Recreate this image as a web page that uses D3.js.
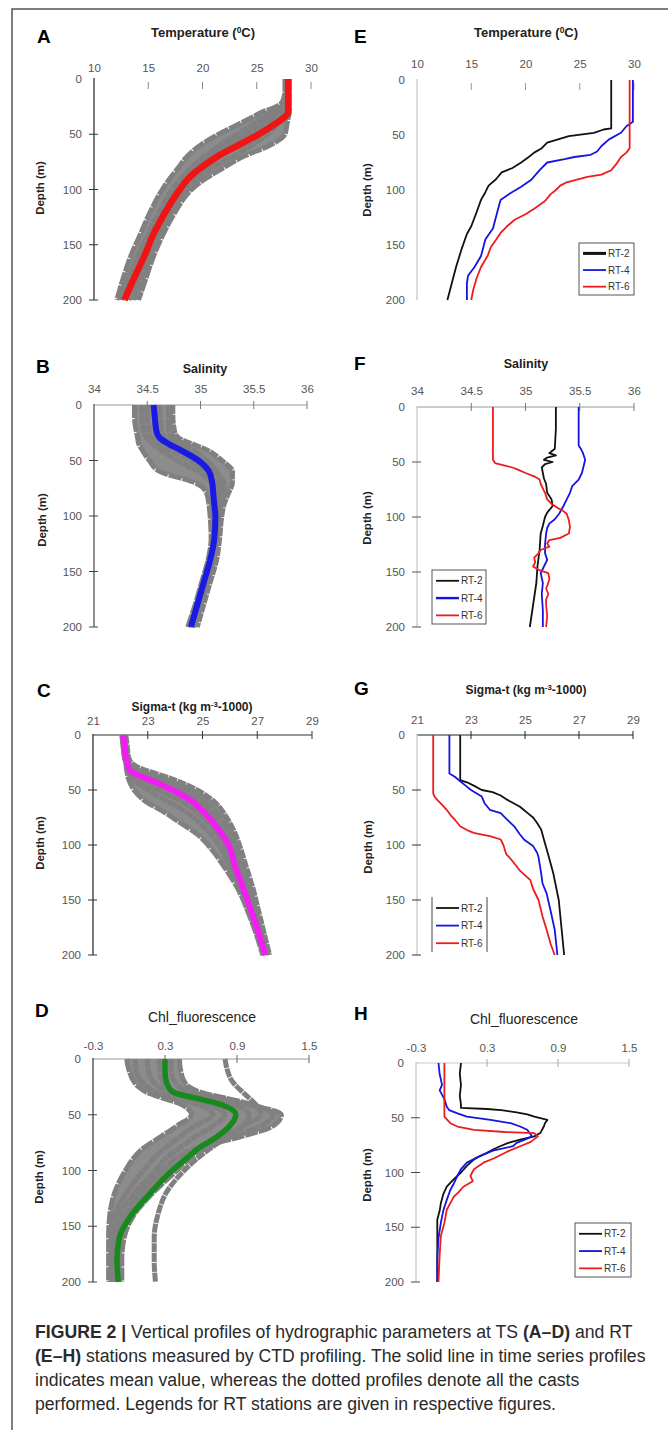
<!DOCTYPE html>
<html><head><meta charset="utf-8">
<script src="https://cdn.jsdelivr.net/npm/d3@7"></script>
<style>
body{margin:0;background:#fff}
svg{display:block}
text{font-family:Arial,"Liberation Sans",Helvetica,sans-serif}
</style>
</head><body>
<svg id="fig" width="668" height="1430"></svg>
<script>
// ---------------- DATA ----------------
const depthTicks = [0, 50, 100, 150, 200];
const tempTicks = [10, 15, 20, 25, 30];
const salTicks = [34, 34.5, 35, 35.5, 36];
const sigTicks = [21, 23, 25, 27, 29];
const chlTicks = [-0.3, 0.3, 0.9, 1.5];
const stations = ["RT-2", "RT-4", "RT-6"];

// time-series (TS) common depth grid (m)
const tsDepth = [0,10,20,25,30,35,40,50,60,70,80,90,100,120,140,160,180,200];

// A: temperature, mean and individual casts
const tempMean  = [27.9,27.9,27.9,27.9,27.9,27.5,26.8,25.2,23.3,21.4,19.9,18.7,17.9,16.6,15.5,14.65,13.7,12.8];
const tempCast1 = [28.0,28.0,28.0,28.0,28.0,27.9,27.8,27.6,26.2,23.8,22.0,20.3,19.0,17.5,16.4,15.5,14.8,14.1];
const tempCast2 = [27.9,27.9,27.9,27.9,27.8,27.5,27.0,26.0,24.5,22.8,21.0,19.6,18.6,17.1,16.0,15.1,14.3,13.6];
const tempCast3 = [27.8,27.8,27.8,27.7,27.3,26.6,26.0,24.6,22.8,21.5,20.3,19.2,18.3,16.9,15.8,14.9,14.0,13.2];
const tempCast4 = [27.7,27.7,27.6,27.3,26.5,25.6,24.8,23.2,21.6,20.2,19.0,18.0,17.2,16.0,15.0,14.0,13.2,12.5];
const tempCast5 = [27.6,27.6,27.4,26.8,25.5,24.5,23.5,21.5,19.8,18.6,17.8,17.0,16.3,15.2,14.3,13.4,12.7,12.1];
const tempCast6 = [27.9,27.9,27.8,27.6,27.0,26.2,25.5,24.0,22.2,20.6,19.5,18.6,17.7,16.4,15.3,14.4,13.6,12.9];

// B: salinity
const salMean  = [34.56,34.57,34.58,34.59,34.62,34.70,34.80,34.98,35.08,35.11,35.12,35.13,35.14,35.13,35.09,35.03,34.97,34.91];
const salCast1 = [34.38,34.38,34.39,34.40,34.41,34.42,34.45,34.52,34.62,34.95,35.06,35.08,35.09,35.10,35.07,35.01,34.95,34.88];
const salCast2 = [34.45,34.45,34.46,34.47,34.50,34.55,34.62,34.78,34.98,35.10,35.13,35.14,35.15,35.14,35.11,35.05,34.99,34.93];
const salCast3 = [34.70,34.70,34.70,34.71,34.74,34.82,34.92,35.06,35.15,35.18,35.17,35.17,35.17,35.15,35.12,35.06,35.00,34.94];
const salCast4 = [34.74,34.74,34.75,34.76,34.80,34.92,35.05,35.20,35.30,35.30,35.26,35.22,35.20,35.18,35.15,35.09,35.03,34.97];
const salCast5 = [34.62,34.62,34.63,34.64,34.68,34.76,34.86,35.00,35.12,35.22,35.22,35.19,35.17,35.15,35.12,35.06,35.00,34.93];
const salCast6 = [34.50,34.50,34.51,34.52,34.54,34.60,34.70,34.90,35.05,35.14,35.16,35.16,35.16,35.13,35.08,35.02,34.96,34.89];

// C: sigma-t
const sigMean  = [22.1,22.15,22.2,22.25,22.3,22.5,23.0,23.9,24.6,25.05,25.4,25.7,25.95,26.2,26.5,26.78,27.05,27.3];
const sigCast1 = [22.05,22.1,22.15,22.2,22.22,22.25,22.3,22.5,22.9,23.6,24.2,24.8,25.2,25.8,26.3,26.65,26.95,27.2];
const sigCast2 = [22.1,22.12,22.15,22.2,22.25,22.3,22.45,23.0,23.7,24.4,24.9,25.3,25.6,26.0,26.4,26.7,27.0,27.25];
const sigCast3 = [22.15,22.2,22.25,22.3,22.5,23.0,23.5,24.5,25.1,25.5,25.8,26.0,26.2,26.45,26.7,26.95,27.15,27.4];
const sigCast4 = [22.2,22.25,22.3,22.4,22.7,23.3,23.9,24.8,25.4,25.75,26.0,26.2,26.35,26.6,26.85,27.05,27.25,27.45];
const sigCast5 = [22.1,22.15,22.2,22.25,22.35,22.6,23.2,24.2,24.9,25.3,25.6,25.85,26.05,26.3,26.6,26.85,27.1,27.3];
const sigCast6 = [22.08,22.1,22.15,22.2,22.25,22.35,22.6,23.4,24.2,24.8,25.2,25.55,25.8,26.1,26.45,26.75,27.0,27.25];

// D: chlorophyll fluorescence
const chlMean  = [0.30,0.30,0.31,0.33,0.37,0.55,0.74,0.89,0.84,0.73,0.58,0.47,0.36,0.18,0.02,-0.08,-0.10,-0.09];
const chlCast1 = [-0.02,0.00,0.04,0.08,0.15,0.28,0.42,0.52,0.40,0.26,0.12,0.03,-0.03,-0.12,-0.16,-0.17,-0.17,-0.17];
const chlCast2 = [0.15,0.16,0.20,0.25,0.35,0.50,0.65,0.80,0.70,0.55,0.42,0.30,0.22,0.05,-0.08,-0.12,-0.13,-0.13];
const chlCast3 = [0.42,0.43,0.46,0.50,0.60,0.80,1.00,1.20,1.10,0.85,0.64,0.50,0.40,0.20,0.04,-0.04,-0.06,-0.06];
const chlCast4 = [0.80,0.82,0.86,0.90,0.95,1.00,1.05,1.10,0.95,0.82,0.68,0.56,0.46,0.31,0.24,0.21,0.21,0.22];
const chlCast5 = [0.25,0.26,0.28,0.32,0.40,0.60,0.85,1.00,0.95,0.78,0.60,0.46,0.34,0.16,0.00,-0.08,-0.10,-0.10];
const chlCast6 = [0.05,0.06,0.10,0.15,0.22,0.38,0.55,0.70,0.55,0.42,0.30,0.20,0.12,-0.02,-0.12,-0.15,-0.15,-0.15];
const chlCast7 = [0.35,0.35,0.38,0.42,0.52,0.75,0.95,1.27,1.20,0.92,0.56,0.38,0.28,0.10,-0.03,-0.10,-0.11,-0.11];

// RT stations: [depth, value]
const rt2Temp = [[0,27.9],[44,27.9],[45,27.2],[48,26.3],[51,24.0],[54,23.0],[57,22.0],[62,21.5],[66,20.8],[70,20.3],[75,19.6],[80,18.8],[84,17.8],[90,17.3],[96,16.6],[102,16.3],[109,15.9],[120,15.5],[133,15.0],[140,14.6],[154,14.1],[170,13.6],[185,13.2],[200,12.8]];
const rt4Temp = [[0,29.9],[38,29.9],[42,29.3],[48,28.8],[54,27.7],[60,27.0],[65,26.6],[68,26.0],[70,24.5],[72,23.6],[75,22.0],[82,21.3],[91,20.5],[97,19.6],[103,18.6],[109,17.7],[120,17.4],[135,17.0],[142,16.5],[145,16.3],[160,15.9],[170,15.3],[178,14.7],[185,14.6],[200,14.6]];
const rt6Temp = [[0,29.6],[62,29.6],[66,29.3],[70,28.8],[76,28.4],[82,27.9],[86,27.0],[88,25.7],[93,23.8],[96,23.2],[100,22.8],[104,22.3],[110,21.8],[117,20.8],[122,20.0],[127,19.0],[133,18.3],[139,17.7],[145,17.3],[152,16.8],[160,16.5],[170,15.9],[180,15.5],[190,15.2],[200,15.0]];

const rt2Sal = [[0,35.28],[20,35.28],[38,35.27],[42,35.22],[44,35.28],[46,35.2],[48,35.17],[50,35.25],[52,35.18],[55,35.15],[60,35.16],[65,35.17],[70,35.19],[78,35.2],[84,35.24],[90,35.25],[96,35.2],[100,35.18],[108,35.16],[115,35.14],[130,35.13],[145,35.11],[160,35.1],[180,35.07],[200,35.04]];
const rt4Sal = [[0,35.49],[35,35.49],[38,35.51],[42,35.53],[48,35.55],[52,35.54],[60,35.52],[66,35.49],[72,35.43],[78,35.41],[84,35.38],[90,35.35],[97,35.31],[102,35.27],[106,35.22],[110,35.2],[115,35.19],[125,35.18],[133,35.18],[139,35.2],[145,35.17],[151,35.14],[160,35.16],[170,35.15],[185,35.16],[200,35.16]];
const rt6Sal = [[0,34.7],[48,34.7],[51,34.72],[53,34.8],[55,34.88],[57,34.93],[60,35.0],[63,35.08],[66,35.13],[70,35.14],[78,35.18],[84,35.2],[88,35.24],[92,35.3],[94,35.34],[97,35.38],[103,35.4],[109,35.41],[115,35.4],[119,35.32],[121,35.22],[124,35.2],[127,35.22],[130,35.14],[133,35.12],[137,35.08],[141,35.09],[145,35.07],[148,35.12],[151,35.21],[156,35.22],[160,35.21],[165,35.19],[170,35.21],[175,35.19],[180,35.19],[190,35.2],[200,35.19]];

const rt2Sig = [[0,22.6],[41,22.6],[43,22.85],[46,23.1],[50,23.4],[52,23.8],[55,24.1],[59,24.35],[65,24.8],[68,24.95],[71,25.1],[75,25.3],[80,25.45],[86,25.6],[95,25.7],[108,25.85],[126,26.05],[150,26.25],[175,26.35],[200,26.45]];
const rt4Sig = [[0,22.2],[35,22.2],[38,22.4],[42,22.6],[46,22.8],[50,23.0],[56,23.4],[62,23.5],[68,23.7],[71,24.1],[76,24.3],[83,24.6],[90,24.8],[95,24.96],[101,25.3],[107,25.45],[111,25.5],[126,25.6],[135,25.65],[144,25.8],[160,25.95],[177,26.1],[200,26.2]];
const rt6Sig = [[0,21.6],[53,21.6],[56,21.65],[59,21.75],[64,21.95],[68,22.1],[73,22.25],[77,22.4],[83,22.6],[87,22.9],[89,23.1],[91,23.5],[92,23.7],[95,24.1],[100,24.2],[108,24.3],[115,24.55],[123,24.8],[132,25.2],[140,25.3],[150,25.5],[165,25.65],[177,25.8],[190,25.95],[200,26.1]];

const rt2Chl = [[0,0.08],[10,0.07],[20,0.08],[30,0.07],[38,0.08],[41,0.08],[42,0.3],[43,0.42],[45,0.55],[47,0.64],[49,0.7],[52,0.81],[55,0.79],[58,0.78],[62,0.76],[64,0.75],[67,0.7],[70,0.58],[73,0.48],[76,0.41],[79,0.35],[82,0.3],[85,0.24],[88,0.19],[94,0.13],[100,0.08],[106,0.02],[113,-0.04],[120,-0.07],[128,-0.09],[135,-0.1],[143,-0.12],[160,-0.12],[180,-0.12],[200,-0.12]];
const rt4Chl = [[0,-0.11],[10,-0.1],[20,-0.08],[25,-0.1],[33,-0.06],[40,-0.04],[43,-0.02],[46,0.05],[49,0.13],[52,0.33],[55,0.5],[58,0.58],[61,0.64],[64,0.66],[67,0.68],[70,0.62],[73,0.55],[76,0.52],[80,0.35],[85,0.24],[91,0.13],[97,0.08],[103,0.05],[110,0.02],[116,-0.01],[125,-0.04],[135,-0.07],[146,-0.09],[160,-0.11],[177,-0.12],[200,-0.12]];
const rt6Chl = [[0,-0.06],[20,-0.06],[36,-0.06],[49,-0.06],[55,-0.01],[58,0.05],[61,0.19],[63,0.45],[64,0.7],[67,0.73],[72,0.67],[76,0.58],[81,0.47],[87,0.36],[91,0.27],[97,0.19],[103,0.16],[108,0.18],[113,0.1],[118,0.06],[122,0.02],[128,-0.01],[134,-0.04],[146,-0.06],[158,-0.09],[175,-0.1],[200,-0.11]];

// ---------------- DRAWING ----------------
const svg = d3.select("#fig");
const FONT = "Arial, 'Liberation Sans', Helvetica, sans-serif";
const stationColors = ["#111111", "#1515e0", "#ee1c1c"];

// outer frame
svg.append("path").attr("d", "M12,1430V9H668").attr("fill", "none")
  .attr("stroke", "#555").attr("stroke-width", 1.5);

const panels = [
  {letter:"A", lx:37, ly:43, title:["Temperature (", "0", "C)"], tx:203, ty:37, tb:true, tfs:13,
   domain:[10,30], ticks:tempTicks, left:94, right:311, top:79, bottom:300, lblOff:7,
   yAxisCol:"#333", xAxisCol:null, tickCol:"#888", ytickCol:"#333", dlx:40, dly:188,
   ts:{mean:tempMean, casts:[tempCast1,tempCast2,tempCast3,tempCast4,tempCast5,tempCast6], band:[0,1,2,3,4,5], color:"#f01414", w:6.5}},
  {letter:"B", lx:36, ly:373, title:["Salinity"], tx:205, ty:373, tb:true, tfs:12.5,
   domain:[34,36], ticks:salTicks, left:94, right:307, top:405, bottom:627, lblOff:12,
   yAxisCol:"#555", xAxisCol:"#999", tickCol:"#777", ytickCol:"#444", dlx:42, dly:520,
   ts:{mean:salMean, casts:[salCast1,salCast2,salCast3,salCast4,salCast5,salCast6], band:[0,1,2,3,4,5], color:"#1a1ae6", w:6}},
  {letter:"C", lx:37, ly:697, title:["Sigma-t (kg m", "-3", "-1000)"], tx:192, ty:711, tb:true, tfs:12,
   domain:[21,29], ticks:sigTicks, left:93, right:312, top:735, bottom:955, lblOff:10,
   yAxisCol:"#333", xAxisCol:"#333", tickCol:"#333", ytickCol:"#333", dlx:40, dly:843,
   ts:{mean:sigMean, casts:[sigCast1,sigCast2,sigCast3,sigCast4,sigCast5,sigCast6], band:[0,1,2,3,4,5], color:"#f01ef0", w:6}},
  {letter:"D", lx:35, ly:1017, title:["Chl_fluorescence"], tx:202, ty:1022, tb:false, tfs:14,
   domain:[-0.3,1.5], ticks:chlTicks, left:93, right:309, top:1059, bottom:1282, lblOff:9,
   yAxisCol:"#444", xAxisCol:"#999", tickCol:"#666", ytickCol:"#444", dlx:39, dly:1177,
   ts:{mean:chlMean, casts:[chlCast1,chlCast2,chlCast3,chlCast4,chlCast5,chlCast6,chlCast7], band:[0,1,2,4,5,6], color:"#178a1e", w:5.5}},
  {letter:"E", lx:354, ly:43, title:["Temperature (", "0", "C)"], tx:526, ty:37, tb:true, tfs:13,
   domain:[10,30], ticks:tempTicks, left:417, right:634, top:80, bottom:300, lblOff:12,
   yAxisCol:"#c8c8c8", xAxisCol:null, tickCol:"#999", ytickCol:null, dlx:367, dly:190,
   rt:[rt2Temp, rt4Temp, rt6Temp], legend:{x:579, y:243, w:55, h:52, sides:false, lw:[3,1.8,1.8]}},
  {letter:"F", lx:354, ly:370, title:["Salinity"], tx:526, ty:368, tb:true, tfs:12.5,
   domain:[34,36], ticks:salTicks, left:417, right:634, top:407, bottom:627, lblOff:12,
   yAxisCol:"#c8c8c8", xAxisCol:"#999", tickCol:"#777", ytickCol:"#555", dlx:367, dly:518,
   rt:[rt2Sal, rt4Sal, rt6Sal], legend:{x:432, y:570, w:54, h:54, sides:false, lw:[1.8,2.4,1.8]}},
  {letter:"G", lx:354, ly:695, title:["Sigma-t (kg m", "-3", "-1000)"], tx:526, ty:694, tb:true, tfs:12,
   domain:[21,29], ticks:sigTicks, left:417, right:633, top:735, bottom:955, lblOff:11,
   yAxisCol:"#c8c8c8", xAxisCol:"#222", tickCol:"#222", ytickCol:"#333", dlx:368, dly:847,
   rt:[rt2Sig, rt4Sig, rt6Sig], legend:{x:432, y:897, w:55, h:55, sides:true, lw:[1.8,1.8,1.8]}},
  {letter:"H", lx:354, ly:1020, title:["Chl_fluorescence"], tx:524, ty:1024, tb:false, tfs:14,
   domain:[-0.3,1.5], ticks:chlTicks, left:416, right:629, top:1063, bottom:1282, lblOff:11,
   yAxisCol:"#c8c8c8", xAxisCol:"#c8c8c8", tickCol:"#aaa", ytickCol:"#444", dlx:367, dly:1175,
   rt:[rt2Chl, rt4Chl, rt6Chl], legend:{x:575, y:1223, w:56, h:54, sides:false, lw:[1.8,1.8,1.8]}}
];

panels.forEach(p => {
  const g = svg.append("g");
  const x = d3.scaleLinear().domain(p.domain).range([p.left, p.right]);
  const y = d3.scaleLinear().domain([0, 200]).range([p.top, p.bottom]);

  // panel letter
  g.append("text").attr("x", p.lx).attr("y", p.ly).text(p.letter)
    .attr("font-size", 19).attr("font-weight", "bold").attr("fill", "#000").attr("font-family", FONT);

  // title
  const t = g.append("text").attr("x", p.tx).attr("y", p.ty).attr("text-anchor", "middle")
    .attr("font-family", FONT).attr("fill", "#222")
    .attr("font-size", p.tfs).attr("font-weight", p.tb ? "bold" : "normal");
  t.append("tspan").text(p.title[0]);
  if (p.title.length > 1) {
    t.append("tspan").text(p.title[1]).attr("font-size", p.tfs * 0.65).attr("dy", -4.5);
    t.append("tspan").text(p.title[2]).attr("dy", 4.5);
  }

  // depth label
  g.append("text").attr("transform", `translate(${p.dlx},${p.dly}) rotate(-90)`)
    .attr("text-anchor", "middle").attr("dy", "0.35em").text("Depth (m)")
    .attr("font-size", 11.5).attr("font-weight", "bold").attr("fill", "#222").attr("font-family", FONT);

  // x tick labels (top axis)
  const gx = g.append("g").attr("transform", `translate(0,${p.top})`)
    .call(d3.axisTop(x).tickValues(p.ticks).tickSize(0).tickPadding(p.lblOff).tickFormat(d => String(d)));
  gx.select(".domain").remove();
  gx.selectAll("text").attr("font-size", 11.5).attr("fill", "#555").attr("font-family", FONT);

  // y tick labels
  const gy = g.append("g").attr("transform", `translate(${p.left},0)`)
    .call(d3.axisLeft(y).tickValues(depthTicks).tickSize(0).tickPadding(12).tickFormat(d => String(d)));
  gy.select(".domain").remove();
  gy.selectAll("text").attr("font-size", 11.5).attr("fill", "#555").attr("font-family", FONT);

  // axis lines
  if (p.xAxisCol) g.append("line").attr("x1", p.left).attr("x2", p.right).attr("y1", p.top).attr("y2", p.top)
    .attr("stroke", p.xAxisCol).attr("stroke-width", 1);
  g.append("line").attr("x1", p.left).attr("x2", p.left).attr("y1", p.top - 1).attr("y2", p.bottom)
    .attr("stroke", p.yAxisCol).attr("stroke-width", 1.3);

  // cross tick marks
  g.selectAll(".xt").data(p.ticks.slice(1)).join("line")
    .attr("x1", d => x(d)).attr("x2", d => x(d))
    .attr("y1", p.xAxisCol ? p.top - 4 : p.top + 3).attr("y2", p.xAxisCol ? p.top + 4 : p.top + 10)
    .attr("stroke", p.tickCol).attr("stroke-width", 1);
  if (p.ytickCol) g.selectAll(".yt").data(depthTicks.slice(1)).join("line")
    .attr("x1", p.left - 5).attr("x2", p.left + 4).attr("y1", d => y(d)).attr("y2", d => y(d))
    .attr("stroke", p.ytickCol).attr("stroke-width", 1);

  if (p.ts) {
    const line = d3.line().x(d => x(d[1])).y(d => y(d[0])).curve(d3.curveMonotoneY);
    // gray band spanned by the casts
    const bandCasts = p.ts.band.map(k => p.ts.casts[k]);
    const area = d3.area().curve(d3.curveMonotoneY)
      .y(d => y(d)).x0((d, i) => x(d3.min(bandCasts, c => c[i]))).x1((d, i) => x(d3.max(bandCasts, c => c[i])));
    g.append("path").attr("d", area(tsDepth)).attr("fill", "#8c8c8c");
    p.ts.casts.forEach((c, k) => {
      g.append("path").attr("d", line(tsDepth.map((d, i) => [d, c[i]])))
        .attr("fill", "none").attr("stroke", "#808080").attr("stroke-width", 5)
        .attr("stroke-linejoin", "round")
        .attr("stroke-dasharray", k % 2 ? "9 0.8" : "13 1");
    });
    g.append("path").attr("d", line(tsDepth.map((d, i) => [d, p.ts.mean[i]])))
      .attr("fill", "none").attr("stroke", p.ts.color).attr("stroke-width", p.ts.w)
      .attr("stroke-linecap", "butt");
  }

  if (p.rt) {
    const line = d3.line().x(d => x(d[1])).y(d => y(d[0]));
    p.rt.forEach((s, i) => {
      g.append("path").attr("d", line(s)).attr("fill", "none")
        .attr("stroke", stationColors[i]).attr("stroke-width", 1.8).attr("stroke-linejoin", "round");
    });
    const L = p.legend;
    const lg = g.append("g").attr("transform", `translate(${L.x},${L.y})`);
    if (L.sides) {
      lg.append("line").attr("x1", 0).attr("x2", 0).attr("y1", 0).attr("y2", L.h).attr("stroke", "#444");
      lg.append("line").attr("x1", L.w).attr("x2", L.w).attr("y1", 0).attr("y2", L.h).attr("stroke", "#444");
    } else {
      lg.append("rect").attr("width", L.w).attr("height", L.h).attr("fill", "#fff")
        .attr("stroke", "#555").attr("stroke-width", 1);
    }
    stations.forEach((s, i) => {
      const yy = L.h * (0.2 + 0.32 * i);
      lg.append("line").attr("x1", 4).attr("x2", 27).attr("y1", yy).attr("y2", yy)
        .attr("stroke", stationColors[i]).attr("stroke-width", L.lw[i]);
      lg.append("text").attr("x", 29).attr("y", yy).attr("dy", "0.35em").text(s)
        .attr("font-size", 10).attr("fill", "#333").attr("font-family", FONT);
    });
  }
});

// ---------------- CAPTION ----------------
const captionLines = [
  [["FIGURE 2 |", true], [" Vertical profiles of hydrographic parameters at TS ", false], ["(A–D)", true], [" and RT", false]],
  [["(E–H)", true], [" stations measured by CTD profiling. The solid line in time series profiles", false]],
  [["indicates mean value, whereas the dotted profiles denote all the casts", false]],
  [["performed. Legends for RT stations are given in respective figures.", false]]
];
const capY = [1338, 1362, 1386, 1410];
const capTexts = captionLines.map((ln, i) => {
  const t = svg.append("text").attr("x", 35).attr("y", capY[i]).attr("font-size", 15)
    .attr("fill", "#2a2a2a").attr("font-family", FONT);
  ln.forEach(([s, b]) => t.append("tspan").text(s).attr("font-weight", b ? "bold" : "normal"));
  return t;
});
// scale font so that the second line spans the measured width
const w2 = capTexts[1].node().getComputedTextLength();
const fs = 15 * 611 / w2;
capTexts.forEach(t => t.attr("font-size", fs));
</script>
</body></html>
